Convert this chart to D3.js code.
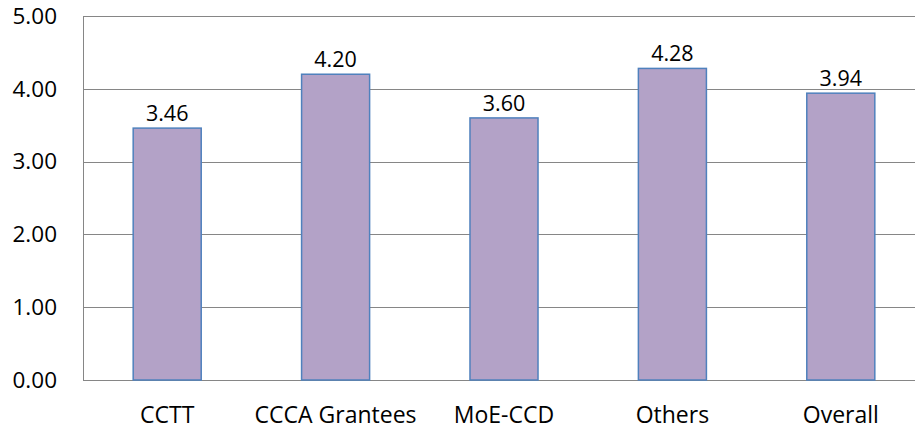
<!DOCTYPE html>
<html><head><meta charset="utf-8">
<script src="https://cdn.jsdelivr.net/npm/d3@7"></script>
<style>body{margin:0;background:#fff;} svg{display:block;}</style>
</head><body>
<svg id="c" width="915" height="429"></svg>
<script>
const categories = ["CCTT", "CCCA Grantees", "MoE-CCD", "Others", "Overall"];
const values = [3.46, 4.20, 3.60, 4.28, 3.94];
const yTicks = [0, 1, 2, 3, 4, 5];

(function () {
const svg = d3.select("#c");
const mLeft = 83, mRight = 925, mTop = 16, mBottom = 380;
const x = d3.scaleBand().domain(categories).range([mLeft, mRight]).padding(0);
const y = d3.scaleLinear().domain([0, 5]).range([mBottom, mTop]);
const font = "'Open Sans', 'Liberation Sans', sans-serif";

svg.append("g").selectAll("line").data(yTicks).join("line")
  .attr("x1", mLeft).attr("x2", mRight)
  .attr("y1", d => Math.round(y(d)) + 0.5).attr("y2", d => Math.round(y(d)) + 0.5)
  .attr("stroke", "#868686").attr("stroke-width", 1);
svg.append("line").attr("x1", mLeft + 0.5).attr("x2", mLeft + 0.5)
  .attr("y1", mTop).attr("y2", mBottom + 1).attr("stroke", "#868686");

svg.append("g").selectAll("text").data(yTicks).join("text")
  .attr("x", 57).attr("y", d => y(d)).attr("dy", "0.35em")
  .attr("text-anchor", "end").attr("font-family", font).attr("font-size", 22.5)
  .attr("fill", "#000").text(d => d3.format(".2f")(d));

const bw = x.bandwidth() * 0.404;
svg.append("g").selectAll("rect").data(values).join("rect")
  .attr("x", (d, i) => x(categories[i]) + x.bandwidth() / 2 - bw / 2)
  .attr("y", d => y(d))
  .attr("width", bw).attr("height", d => mBottom - y(d))
  .attr("fill", "#b3a2c7").attr("stroke", "#4f81bd").attr("stroke-width", 1.5);

svg.append("g").selectAll("text").data(values).join("text")
  .attr("x", (d, i) => x(categories[i]) + x.bandwidth() / 2)
  .attr("y", d => y(d) - 7)
  .attr("text-anchor", "middle").attr("font-family", font).attr("font-size", 21.5)
  .attr("fill", "#000").text(d => d3.format(".2f")(d));

svg.append("g").selectAll("text").data(categories).join("text")
  .attr("x", d => x(d) + x.bandwidth() / 2)
  .attr("y", 423)
  .attr("text-anchor", "middle").attr("font-family", font).attr("font-size", 23)
  .attr("fill", "#000").text(d => d);
})();
</script>
</body></html>
